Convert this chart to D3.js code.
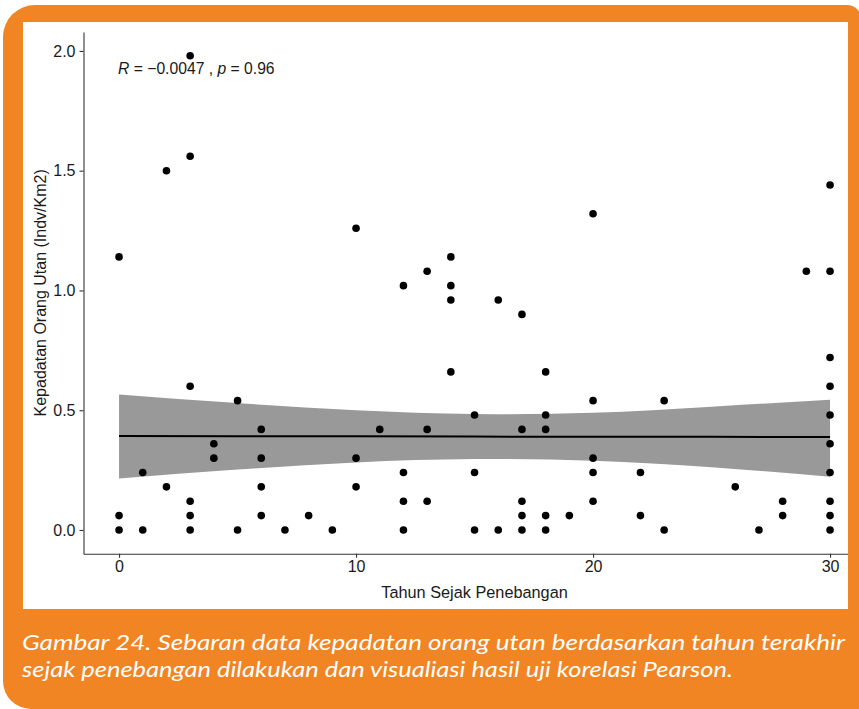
<!DOCTYPE html>
<html>
<head>
<meta charset="utf-8">
<script src="https://cdn.jsdelivr.net/npm/d3@7"></script>
<style>
  html, body { margin: 0; padding: 0; background: #ffffff; }
  svg { display: block; }
</style>
</head>
<body>
<svg id="fig" width="859" height="709"></svg>
<script>
// Years since logging (x) and orangutan density (y), one entry per survey plot
const years = [
  0, 0, 0,
  1, 1,
  2, 2,
  3, 3, 3, 3, 3, 3,
  4, 4,
  5, 5,
  6, 6, 6, 6,
  7, 8, 9,
  10, 10, 10,
  11,
  12, 12, 12, 12,
  13, 13, 13,
  14, 14, 14, 14,
  15, 15, 15,
  16, 16,
  17, 17, 17, 17, 17,
  18, 18, 18, 18, 18,
  19,
  20, 20, 20, 20, 20,
  22, 22,
  23, 23,
  26, 27,
  28, 28,
  29,
  30, 30, 30, 30, 30, 30, 30, 30, 30, 30
];
const density = [
  0, 0.06, 1.14,
  0, 0.24,
  0.18, 1.50,
  0, 0.06, 0.12, 0.60, 1.56, 1.98,
  0.30, 0.36,
  0, 0.54,
  0.06, 0.18, 0.30, 0.42,
  0, 0.06, 0,
  0.18, 0.30, 1.26,
  0.42,
  0, 0.12, 0.24, 1.02,
  0.12, 0.42, 1.08,
  0.66, 0.96, 1.02, 1.14,
  0, 0.24, 0.48,
  0, 0.96,
  0, 0.06, 0.12, 0.42, 0.90,
  0, 0.06, 0.42, 0.48, 0.66,
  0.06,
  0.12, 0.24, 0.30, 0.54, 1.32,
  0.06, 0.24,
  0, 0.54,
  0.18, 0,
  0.06, 0.12,
  1.08,
  0, 0.06, 0.12, 0.24, 0.36, 0.48, 0.60, 0.72, 1.08, 1.44
];

// Linear fit with 95% confidence band
const fitX     = [0, 5, 10, 15, 20, 25, 30];
const fitY     = [0.392, 0.391, 0.391, 0.390, 0.389, 0.389, 0.388];
const bandLow  = [0.215, 0.252, 0.282, 0.296, 0.289, 0.262, 0.222];
const bandHigh = [0.566, 0.530, 0.500, 0.484, 0.489, 0.515, 0.544];

const xTicks = [0, 10, 20, 30];
const yTicks = [0, 0.5, 1.0, 1.5, 2.0];

const xTitle = "Tahun Sejak Penebangan";
const yTitle = "Kepadatan Orang Utan (Indv/Km2)";
const captionLines = [
  "Gambar 24. Sebaran data kepadatan orang utan berdasarkan tahun terakhir",
  "sejak penebangan dilakukan dan visualiasi hasil uji korelasi Pearson."
];

const ORANGE = "#F18423";
const svg = d3.select("#fig");

// Orange card with rounded corners
svg.append("path")
  .attr("d", "M35,5 H847 A14,14 0 0 1 861,19 V709 H31 A28,28 0 0 1 3,681 V37 A32,32 0 0 1 35,5 Z")
  .attr("fill", ORANGE);

// White plotting panel inside the card
const panel = { x: 23, y: 22, w: 825, h: 587 };
svg.append("rect")
  .attr("x", panel.x).attr("y", panel.y)
  .attr("width", panel.w).attr("height", panel.h)
  .attr("fill", "#ffffff");

svg.append("clipPath").attr("id", "panelClip")
  .append("rect")
  .attr("x", panel.x).attr("y", panel.y)
  .attr("width", panel.w).attr("height", panel.h);

const g = svg.append("g").attr("clip-path", "url(#panelClip)");

// Scales with 5% padding around the data range
const x = d3.scaleLinear().domain([-1.5, 31.5]).range([83.5, 865.6]);
const y = d3.scaleLinear().domain([-0.099, 2.079]).range([553.7, 32]);

// Confidence band
const area = d3.area()
  .x((d, i) => x(fitX[i]))
  .y0((d, i) => y(bandLow[i]))
  .y1((d, i) => y(bandHigh[i]))
  .curve(d3.curveNatural);
g.append("path")
  .datum(fitX)
  .attr("d", area)
  .attr("fill", "#999999");

// Regression line
const line = d3.line()
  .x((d, i) => x(fitX[i]))
  .y((d, i) => y(fitY[i]));
g.append("path")
  .datum(fitX)
  .attr("d", line)
  .attr("fill", "none")
  .attr("stroke", "#000000")
  .attr("stroke-width", 2);

// Points
g.append("g")
  .selectAll("circle")
  .data(years)
  .join("circle")
  .attr("cx", (d) => x(d))
  .attr("cy", (d, i) => y(density[i]))
  .attr("r", 3.8)
  .attr("fill", "#000000");

// Axes
const fontAxis = "'Liberation Sans', Arial, sans-serif";
const xAxis = g.append("g")
  .attr("transform", `translate(0,${y.range()[0]})`)
  .call(d3.axisBottom(x).tickValues(xTicks).tickSize(4).tickPadding(3).tickSizeOuter(0));
const yAxis = g.append("g")
  .attr("transform", `translate(${x.range()[0]},0)`)
  .call(d3.axisLeft(y).tickValues(yTicks).tickFormat(d3.format(".1f")).tickSize(4).tickPadding(4).tickSizeOuter(0));

[xAxis, yAxis].forEach((ax) => {
  ax.select(".domain").attr("stroke", "#333333").attr("stroke-width", 1.1);
  ax.selectAll(".tick line").attr("stroke", "#333333").attr("stroke-width", 1.1);
  ax.selectAll(".tick text")
    .attr("fill", "#1a1a1a")
    .style("font-family", fontAxis)
    .style("font-size", "16px");
});

// Axis titles
svg.append("text")
  .attr("x", (x.range()[0] + x.range()[1]) / 2)
  .attr("y", 598)
  .attr("text-anchor", "middle")
  .style("font-family", fontAxis)
  .style("font-size", "16.3px")
  .attr("fill", "#1a1a1a")
  .text(xTitle);

svg.append("text")
  .attr("transform", `translate(46,${(y.range()[0] + y.range()[1]) / 2}) rotate(-90)`)
  .attr("text-anchor", "middle")
  .style("font-family", fontAxis)
  .style("font-size", "16px")
  .attr("fill", "#1a1a1a")
  .text(yTitle);

// Correlation annotation
const ann = svg.append("text")
  .attr("x", 118).attr("y", 74)
  .style("font-family", fontAxis)
  .style("font-size", "15.7px")
  .attr("fill", "#1a1a1a");
ann.append("tspan").style("font-style", "italic").text("R");
ann.append("tspan").text(" = \u22120.0047 , ");
ann.append("tspan").style("font-style", "italic").text("p");
ann.append("tspan").text(" = 0.96");

// Caption in white on the orange card
const capWidths = [823, 711];
const capBase = [650, 677];
captionLines.forEach((txt, i) => {
  const t = svg.append("text")
    .attr("x", 22).attr("y", capBase[i])
    .attr("fill", "#ffffff")
    .style("font-family", "Lato, 'Open Sans', sans-serif")
    .style("font-style", "italic")
    .style("font-size", "22px")
    .text(txt);
  const natural = t.node().getComputedTextLength();
  if (natural > 0) {
    t.attr("textLength", capWidths[i]).attr("lengthAdjust", "spacingAndGlyphs");
  }
});
</script>
</body>
</html>
